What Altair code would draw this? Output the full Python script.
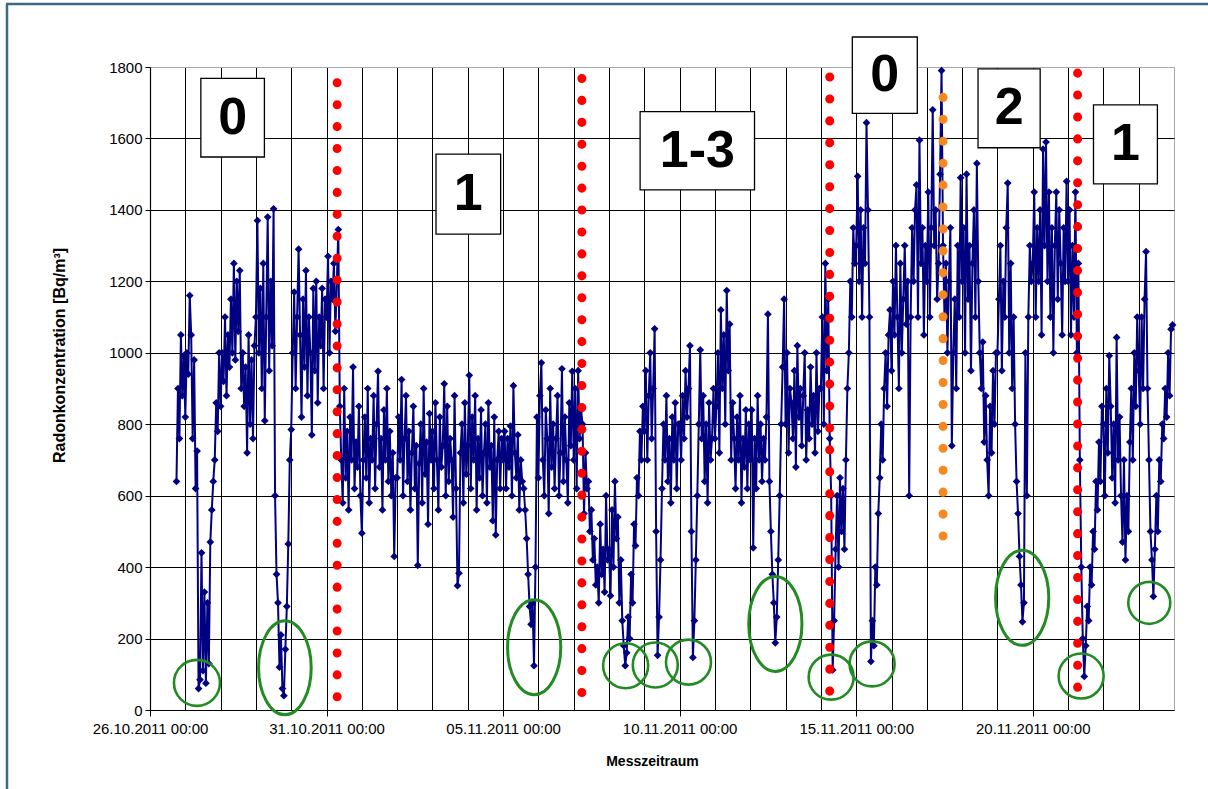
import altair as alt
import pandas as pd

# ---------------- data (hourly readings) ----------------
BASE = pd.Timestamp("2011-10-26 00:00")
FIRST_HOUR = 18  # series starts 26.10.2011 18:00

d00 = [640, 900, 760, 1050, 880, 990]
d01 = [820, 1000, 940, 1160, 1050, 760, 980, 620, 725, 60, 85, 440, 110, 330, 75, 300, 130, 470, 560, 640, 700, 860, 780, 1000]
d02 = [850, 1000, 920, 1100, 880, 1050, 960, 1150, 1000, 1250, 980, 1200, 1060, 1230, 900, 1000, 850, 960, 720, 1050, 800, 980, 760, 1020]
d03 = [1100, 1370, 1000, 1180, 900, 1250, 810, 1100, 1380, 950, 1200, 1020, 1403, 600, 380, 300, 120, 210, 60, 40, 170, 290, 465, 700]
d04 = [785, 1000, 1170, 900, 1100, 1290, 1050, 820, 1150, 960, 1230, 880, 1100, 1000, 770, 1180, 950, 1200, 860, 1100, 1020, 1180, 900, 1150]
d05 = [1100, 1270, 1000, 1200, 1150, 1250, 1060, 1200, 1345, 850, 700, 580, 900, 650, 780, 560, 820, 700, 960, 620, 750, 680, 850, 600]
d06 = [495, 700, 820, 650, 900, 580, 760, 700, 880, 620, 800, 948, 680, 760, 560, 840, 700, 900, 640, 780, 600, 720, 430, 650]
d07 = [650, 820, 700, 925, 600, 760, 880, 640, 780, 560, 720, 850, 620, 740, 405, 690, 800, 580, 900, 660, 750, 520, 830, 700]
d08 = [780, 620, 860, 700, 560, 820, 680, 740, 913, 600, 850, 640, 760, 700, 540, 880, 620, 348, 383, 720, 800, 580, 860, 660]
d09 = [740, 937, 620, 820, 700, 880, 560, 760, 650, 840, 600, 720, 800, 580, 860, 680, 740, 530, 820, 490, 700, 780, 620, 760]
d10 = [700, 780, 620, 760, 680, 795, 600, 908, 720, 650, 770, 560, 700, 640, 620, 560, 480, 380, 290, 240, 300, 124, 400, 820]
d11 = [650, 880, 972, 700, 600, 840, 760, 550, 900, 680, 800, 620, 760, 880, 600, 720, 955, 640, 820, 700, 580, 860, 740, 948]
d12 = [700, 900, 620, 950, 760, 840, 800, 550, 720, 620, 640, 500, 560, 420, 480, 350, 400, 300, 520, 380, 450, 330, 600, 420]
d13 = [450, 320, 560, 400, 640, 480, 540, 300, 420, 250, 180, 124, 160, 260, 200, 380, 300, 520, 460, 650, 600, 780, 700, 850]
d14 = [780, 950, 700, 880, 1000, 760, 900, 1067, 500, 153, 260, 420, 620, 800, 700, 880, 640, 760, 580, 820, 700, 860, 620, 800]
d15 = [800, 700, 880, 760, 950, 820, 900, 1020, 500, 147, 250, 420, 600, 800, 1008, 760, 880, 640, 800, 580, 860, 700, 760, 900]
d16 = [760, 850, 1000, 720, 1120, 900, 1050, 800, 1174, 950, 1080, 700, 860, 760, 620, 820, 700, 880, 580, 760, 680, 840, 620, 800]
d17 = [700, 840, 454, 760, 620, 880, 700, 800, 640, 760, 700, 820, 1108, 640, 500, 380, 300, 188, 260, 420, 600, 800, 960, 1150]
d18 = [800, 1000, 720, 900, 860, 760, 950, 680, 1020, 820, 900, 740, 880, 1000, 700, 840, 760, 960, 800, 880, 720, 1000, 780, 900]
d19 = [900, 1100, 800, 1250, 950, 1150, 760, 600, 112, 250, 450, 600, 400, 650, 500, 620, 450, 700, 900, 1000, 1200, 1100, 1350, 1250]
d20 = [1300, 1494, 1200, 1400, 1100, 1350, 1250, 1644, 1400, 1100, 136, 250, 180, 400, 350, 550, 650, 800, 700, 900, 1000, 850, 1050, 1120]
d21 = [950, 1200, 1050, 1300, 1100, 900, 1250, 1000, 1150, 1300, 1080, 1200, 600, 1100, 1350, 1200, 1400, 1470, 1100, 1595, 1250, 1350, 1050, 1300]
d22 = [1200, 1450, 1100, 1350, 1680, 1300, 1400, 1150, 1250, 1500, 1790, 1300, 1100, 1250, 1000, 1200, 1350, 740, 1000, 1150, 900, 1300, 1100, 1490]
d23 = [1200, 1350, 1000, 1500, 1150, 1300, 950, 1250, 1400, 1100, 1530, 1200, 1000, 900, 1030, 750, 880, 700, 600, 850, 720, 950, 800, 1000]
d24 = [1000, 1150, 1300, 950, 1200, 1100, 1350, 1475, 1000, 1250, 900, 1100, 800, 640, 550, 430, 350, 247, 300, 1000, 600, 1100, 1300, 1200]
d25 = [1250, 1450, 1100, 1350, 1200, 1400, 1050, 1570, 1300, 1590, 1200, 1450, 1100, 1350, 1000, 1300, 1450, 1150, 1400, 1250, 1050, 1350, 1200, 1480]
d26 = [1200, 1400, 1050, 1300, 1100, 1450, 1000, 1250, 700, 400, 200, 94, 180, 290, 250, 400, 350, 500, 450, 640, 560, 750, 640, 850]
d27 = [800, 600, 900, 720, 992, 850, 650, 800, 580, 1043, 700, 820, 600, 470, 700, 420, 600, 500, 750, 900, 700, 1000, 850, 1100]
d28 = [950, 800, 1100, 900, 1150, 1283, 900, 700, 500, 420, 318, 450, 600, 500, 700, 640, 800, 760, 900, 820, 1000, 880, 1066, 1078]

DAYS = [d00, d01, d02, d03, d04, d05, d06, d07, d08, d09, d10, d11, d12, d13, d14,
        d15, d16, d17, d18, d19, d20, d21, d22, d23, d24, d25, d26, d27, d28]

# dotted change markers (day offset from 26.10.2011 00:00, top / bottom value)
red_day = [5.30, 12.23, 19.25, 26.27]
red_top = [1756, 1768, 1772, 1783]
red_bot = [30, 47, 47, 59]
orange_day = [22.46]
orange_top = [1715]
orange_bot = [483]

# green circles / ellipses (centre day offset, centre value, pixel size)
circ_day = [1.33, 13.47, 14.31, 15.25, 19.29, 20.45, 26.37, 28.30]
circ_val = [76, 124, 126, 134, 92, 129, 95, 300]
circ_diam = [46, 45, 45, 45, 45, 45, 45, 42]
ell_day = [3.82, 10.88, 17.71, 24.70]
ell_val = [118, 176, 241, 314]
ell_h = [94, 95, 95, 95]

# label boxes
box_x0 = [1.44, 8.10, 13.88, 19.89, 23.45, 26.72]
box_x1 = [3.24, 9.93, 17.12, 21.73, 25.21, 28.53]
box_top = [1768, 1556, 1675, 1884, 1795, 1694]
box_bot = [1548, 1332, 1456, 1670, 1574, 1473]
box_text = ["0", "1", "1-3", "0", "2", "1"]

Y_TICKS = [0, 200, 400, 600, 800, 1000, 1200, 1400, 1600, 1800]
N_DAY_TICKS = 29

# ---------------- build tables ----------------
FMT = "%Y-%m-%dT%H:%M:%S"


def ts(day):
    return (BASE + pd.Timedelta(days=day)).strftime(FMT)


rows = []
for k, vals in enumerate(DAYS):
    h0 = FIRST_HOUR if k == 0 else 0
    for i, v in enumerate(vals):
        t = BASE + pd.Timedelta(days=k, hours=h0 + i)
        rows.append({"t": t.strftime(FMT), "v": v})
series = pd.DataFrame(rows)

red_df = pd.DataFrame({"t": [ts(d) for d in red_day], "v": red_top, "v2": red_bot})
orange_df = pd.DataFrame({"t": [ts(d) for d in orange_day], "v": orange_top, "v2": orange_bot})
circ_df = pd.DataFrame({"t": [ts(d) for d in circ_day], "v": circ_val,
                        "s": [c * c for c in circ_diam]})
ell_df = pd.DataFrame({"t": [ts(d) for d in ell_day], "v": ell_val,
                       "s": [h * h for h in ell_h]})
box_df = pd.DataFrame({
    "t": [ts(d) for d in box_x0], "t2": [ts(d) for d in box_x1],
    "v": box_top, "v2": box_bot, "label": box_text,
})
text_df = pd.DataFrame({
    "t": [ts((a + b) / 2) for a, b in zip(box_x0, box_x1)],
    "v": [(a + b) / 2 for a, b in zip(box_top, box_bot)],
    "label": box_text,
})
dummy = pd.DataFrame({"a": [0]})

# ---------------- scales & axes ----------------
day_ticks = []
for k in range(N_DAY_TICKS):
    d = BASE + pd.Timedelta(days=k)
    day_ticks.append(alt.DateTime(year=d.year, month=d.month, date=d.day))

x_scale = alt.Scale(domain=[alt.DateTime(year=2011, month=10, date=26),
                            alt.DateTime(year=2011, month=11, date=24)])
y_scale = alt.Scale(domain=[0, 1800], nice=False)

MAJOR = "round((datum.value - datetime(2011, 9, 26)) / 86400000) % 5 == 0"
FONT = "Liberation Sans"

x_axis = alt.Axis(
    values=day_ticks,
    labelExpr=f"({MAJOR}) ? timeFormat(datum.value, '%d.%m.%Y %H:%M') : ''",
    grid=True, gridColor="#000000", gridWidth=1,
    tickSize=6, tickColor="#000000",
    tickOpacity={"condition": {"test": MAJOR, "value": 1}, "value": 0},
    domainColor="#000000", domainWidth=1.2,
    labelFont=FONT, labelFontSize=15, labelColor="#000000", labelPadding=5,
    labelFlush=False, labelOverlap=False,
    title="Messzeitraum", titleFont=FONT, titleFontSize=14, titleFontWeight="bold",
    titleColor="#000000", titleX=502, titleY=44, titleBaseline="top",
)
y_axis = alt.Axis(
    values=Y_TICKS, format="d",
    grid=True, gridWidth=1,
    gridColor={"condition": {"test": "datum.value >= 1800", "value": "#a8a8a8"}, "value": "#000000"},
    tickSize=5, tickColor="#000000", domainColor="#000000", domainWidth=1.2,
    labelFont=FONT, labelFontSize=15, labelColor="#000000", labelPadding=3,
    title="Radonkonzentration [Bq/m³]", titleFont=FONT, titleFontSize=16,
    titleFontWeight="bold", titleColor="#000000", titlePadding=41, titleY=288,
)

NAVY = "#000080"
GREEN = "#228b22"

X = alt.X("t:T", scale=x_scale, axis=x_axis)
Y = alt.Y("v:Q", scale=y_scale, axis=y_axis)
DOTS = [0.1, 21.83]

line = alt.Chart(series).mark_line(color=NAVY, strokeWidth=2).encode(x=X, y=Y)
pts = alt.Chart(series).mark_point(shape="diamond", filled=True, size=60, color=NAVY, opacity=1).encode(x=X, y=Y)
red = alt.Chart(red_df).mark_rule(color="#ff0000", strokeWidth=9, strokeDash=DOTS, strokeCap="round").encode(
    x=X, y=Y, y2="v2:Q",
)
orange = alt.Chart(orange_df).mark_rule(color="#f7871f", strokeWidth=9, strokeDash=DOTS, strokeCap="round").encode(
    x=X, y=Y, y2="v2:Q",
)
circles = alt.Chart(circ_df).mark_point(shape="circle", filled=False, color=GREEN, strokeWidth=2.6, opacity=1).encode(
    x=X, y=Y, size=alt.Size("s:Q", scale=None, legend=None),
)
ELLIPSE = "M -0.56 0 A 0.56 1 0 1 0 0.56 0 A 0.56 1 0 1 0 -0.56 0 Z"
ellipses = alt.Chart(ell_df).mark_point(shape=ELLIPSE, filled=False, color=GREEN, strokeWidth=3, opacity=1).encode(
    x=X, y=Y, size=alt.Size("s:Q", scale=None, legend=None),
)
boxes = alt.Chart(box_df).mark_rect(fill="white", stroke="#000000", strokeWidth=1.3).encode(
    x=X, x2="t2:T", y=Y, y2="v2:Q",
)
texts = alt.Chart(text_df).mark_text(font=FONT, fontSize=52, fontWeight="bold", color="#000000",
                                     align="center", baseline="middle").encode(
    x=X, y=Y, text="label:N",
)
BORDER = "#3e6985"
border_left = alt.Chart(dummy).mark_rule(color=BORDER, strokeWidth=2.5).encode(
    x=alt.value(-143), y=alt.value(-63), y2=alt.value(730),
)
border_top = alt.Chart(dummy).mark_rule(color=BORDER, strokeWidth=2.5).encode(
    x=alt.value(-144), x2=alt.value(1060), y=alt.value(-63),
)

chart = alt.layer(
    line, pts, red, orange, circles, ellipses, boxes, texts, border_left, border_top
).properties(
    width=1024, height=643,
    autosize=alt.AutoSizeParams(type="none"),
    padding={"left": 150, "top": 67, "right": 34, "bottom": 79},
    background="white",
).configure_view(stroke="#a8a8a8", strokeWidth=1)

chart.save("out.html", embed_options={"renderer": "svg", "actions": False})
